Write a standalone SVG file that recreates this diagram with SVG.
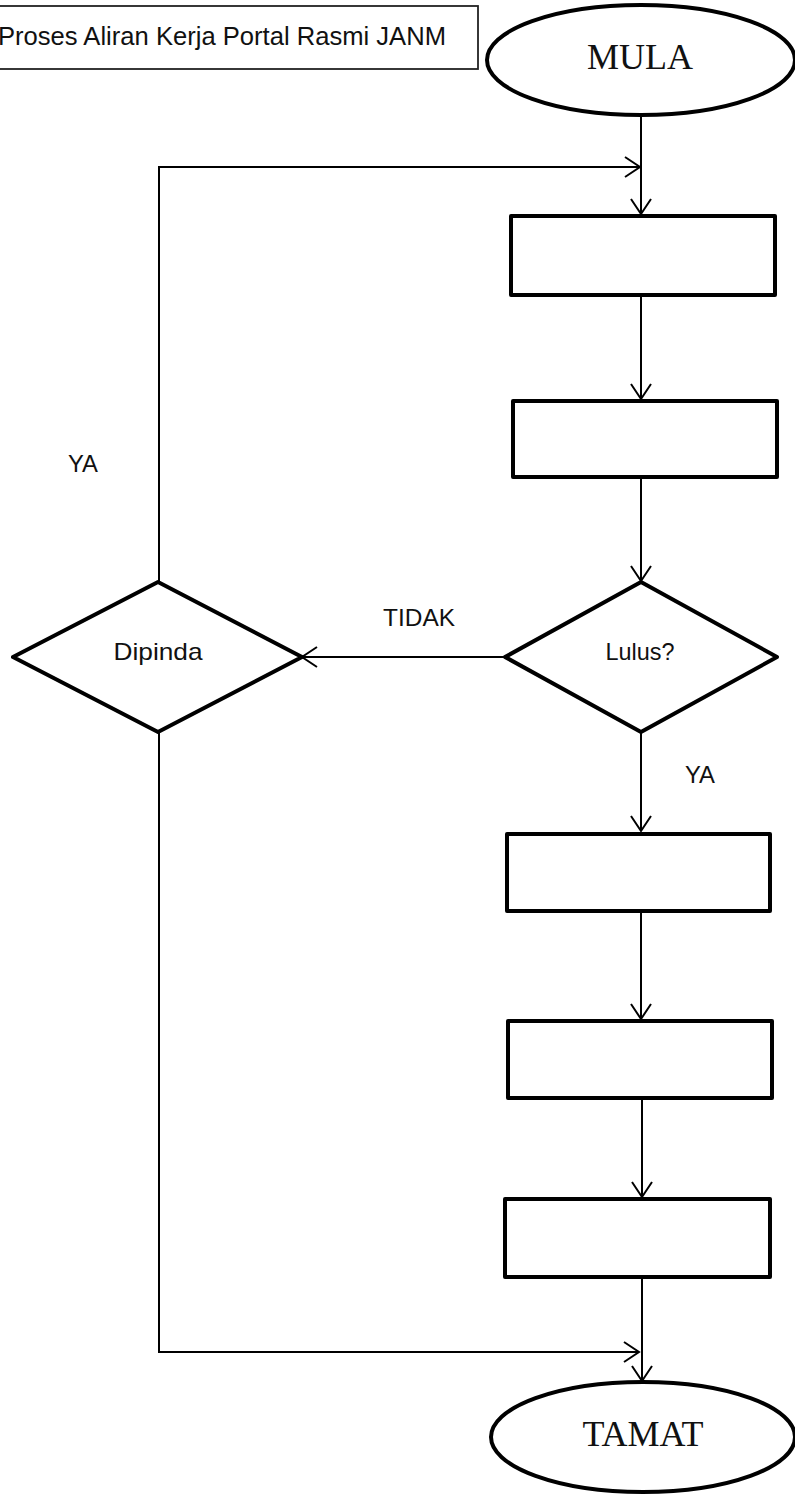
<svg xmlns="http://www.w3.org/2000/svg" width="795" height="1494" viewBox="0 0 795 1494">
<style>
.node{fill:#fff;stroke:#000;stroke-width:4;stroke-linejoin:round}
.conn{fill:none;stroke:#000;stroke-width:2}
.sans{font-family:"Liberation Sans",Arial,sans-serif;fill:#111}
.serif{font-family:"Liberation Serif","Times New Roman",serif;fill:#111}
</style>
<defs>
<marker id="arr" markerUnits="userSpaceOnUse" markerWidth="20" markerHeight="26" viewBox="-17 -13 20 26" refX="0" refY="0" orient="auto">
<path d="M-15,-10 L0,0 L-15,10" fill="none" stroke="#000" stroke-width="2"/>
</marker>
</defs>
<rect width="795" height="1494" fill="#fff"/>
<g id="title">
<rect x="-5" y="6" width="483" height="63" fill="#fff" stroke="#222" stroke-width="1.8"/>
<text class="sans" x="-2" y="45" font-size="25" textLength="448" lengthAdjust="spacingAndGlyphs">Proses Aliran Kerja Portal Rasmi JANM</text>
</g>
<g id="connectors">
<line class="conn" x1="641" y1="115" x2="641" y2="214" marker-end="url(#arr)"/>
<polyline class="conn" points="159,582 159,167 640,167" marker-end="url(#arr)"/>
<line class="conn" x1="641" y1="295" x2="641" y2="399" marker-end="url(#arr)"/>
<line class="conn" x1="641" y1="477" x2="641" y2="581" marker-end="url(#arr)"/>
<line class="conn" x1="505" y1="657" x2="302" y2="657" marker-end="url(#arr)"/>
<line class="conn" x1="641" y1="732" x2="641" y2="831" marker-end="url(#arr)"/>
<line class="conn" x1="641" y1="911" x2="641" y2="1019" marker-end="url(#arr)"/>
<line class="conn" x1="642" y1="1098" x2="642" y2="1197" marker-end="url(#arr)"/>
<line class="conn" x1="642" y1="1277" x2="642" y2="1381" marker-end="url(#arr)"/>
<polyline class="conn" points="159,732 159,1352 639,1352" marker-end="url(#arr)"/>
<text class="sans" x="383" y="626" font-size="23" textLength="72" lengthAdjust="spacingAndGlyphs">TIDAK</text>
<text class="sans" x="685" y="783" font-size="23" textLength="30" lengthAdjust="spacingAndGlyphs">YA</text>
<text class="sans" x="68" y="472" font-size="23" textLength="30" lengthAdjust="spacingAndGlyphs">YA</text>
</g>
<g id="mula">
<ellipse class="node" cx="641" cy="60" rx="154" ry="55"/>
<text class="serif" x="640" y="69" font-size="36" text-anchor="middle">MULA</text>
</g>
<g id="step1"><rect class="node" x="511" y="216" width="264" height="79"/></g>
<g id="step2"><rect class="node" x="513" y="401" width="264" height="76"/></g>
<g id="lulus">
<polygon class="node" points="641,582 777,657 641,732 505,657"/>
<text class="sans" x="640" y="660" font-size="24" text-anchor="middle" textLength="69" lengthAdjust="spacingAndGlyphs">Lulus?</text>
</g>
<g id="dipinda">
<polygon class="node" points="158,582 302,657 158,732 13,657"/>
<text class="sans" x="158" y="660" font-size="24" text-anchor="middle" textLength="89" lengthAdjust="spacingAndGlyphs">Dipinda</text>
</g>
<g id="step3"><rect class="node" x="507" y="834" width="263" height="77"/></g>
<g id="step4"><rect class="node" x="508" y="1021" width="264" height="77"/></g>
<g id="step5"><rect class="node" x="505" y="1199" width="265" height="78"/></g>
<g id="tamat">
<ellipse class="node" cx="643" cy="1437" rx="152" ry="55"/>
<text class="serif" x="643" y="1446" font-size="36" text-anchor="middle">TAMAT</text>
</g>
</svg>
